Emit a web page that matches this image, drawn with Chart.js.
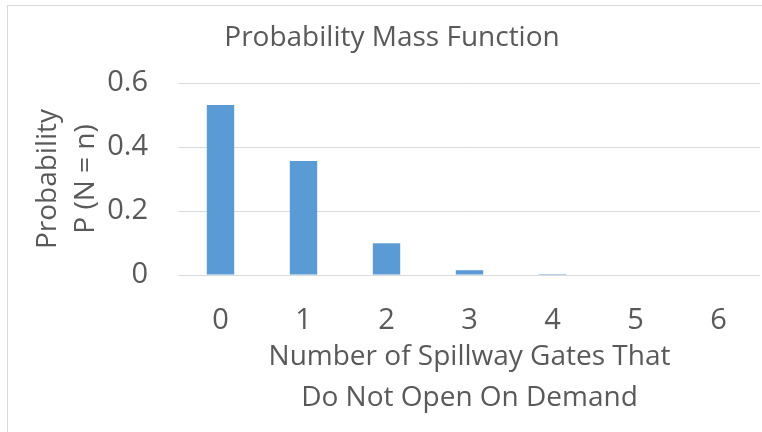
<!DOCTYPE html>
<html>
<head>
<meta charset="utf-8">
<script src="https://cdn.jsdelivr.net/npm/chart.js@4.4.0/dist/chart.umd.min.js"></script>
<style>
  html, body { margin: 0; padding: 0; background: #fff; }
  #wrap { position: relative; width: 762px; height: 432px; overflow: hidden; }
  #frame { position: absolute; left: 7px; top: 5px; width: 760px; height: 440px; border: 1px solid #d9d9d9; }
  canvas { position: absolute; left: 0; top: 0; }
</style>
</head>
<body>
<div id="wrap">
  <div id="frame"></div>
  <canvas id="chart" width="762" height="432"></canvas>
</div>
<script>
// chart data
const categories = ['0', '1', '2', '3', '4', '5', '6'];
const probabilities = [0.531, 0.356, 0.099, 0.015, 0.003, 0.0, 0.0];
const yTicks = [0, 0.2, 0.4, 0.6];

const textColor = '#595959';
const fontFamily = '"Open Sans", sans-serif';

new Chart(document.getElementById('chart'), {
  type: 'bar',
  data: {
    labels: categories,
    datasets: [{
      data: probabilities,
      backgroundColor: '#5b9bd5',
      categoryPercentage: 1,
      barPercentage: 0.33
    }]
  },
  options: {
    responsive: false,
    animation: false,
    layout: { padding: { left: 24, right: 2, top: 0, bottom: 0 } },
    plugins: {
      legend: { display: false },
      tooltip: { enabled: false },
      title: {
        display: true,
        text: 'Probability Mass Function',
        color: textColor,
        font: { family: fontFamily, size: 28, weight: 'normal', lineHeight: 1.2 },
        padding: { top: 21.2, bottom: 28.2 }
      }
    },
    scales: {
      x: {
        grid: { display: false, drawTicks: false },
        border: { display: false },
        ticks: { color: textColor, font: { family: fontFamily, size: 29 }, padding: 28 },
        title: {
          display: true,
          text: ['Number of Spillway Gates That', 'Do Not Open On Demand'],
          color: textColor,
          font: { family: fontFamily, size: 28, lineHeight: 1.464 },
          padding: { top: 0, bottom: 13.5 }
        },
        afterFit: s => { s.height = 157; }
      },
      y: {
        min: 0,
        max: 0.6,
        afterBuildTicks: s => { s.ticks = yTicks.map(v => ({ value: v })); },
        grid: { color: '#d9d9d9', lineWidth: 1, drawTicks: false },
        border: { display: false },
        ticks: { color: textColor, font: { family: fontFamily, size: 29 }, padding: 31 },
        title: {
          display: true,
          text: ['Probability', 'P (N = n)'],
          color: textColor,
          font: { family: fontFamily, size: 28, lineHeight: 1.357 },
          padding: { top: 5, bottom: 0 }
        },
        afterFit: s => { s.width = 155; }
      }
    }
  }
});
</script>
</body>
</html>
